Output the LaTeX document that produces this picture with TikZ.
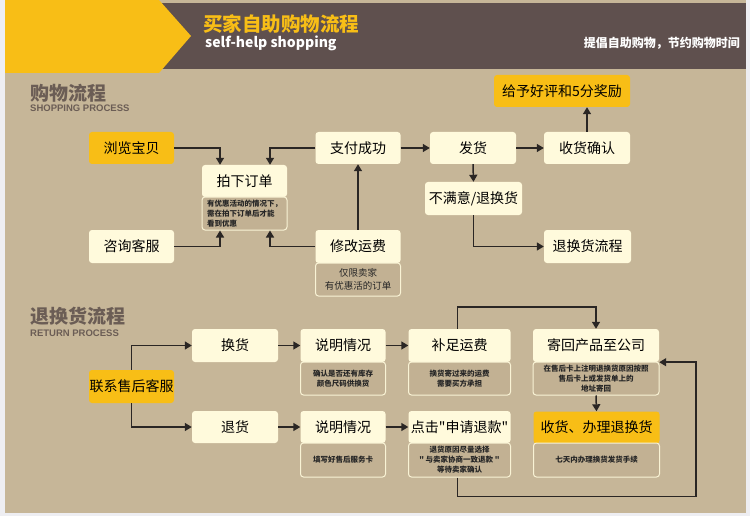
\documentclass[tikz,border=0pt]{standalone}
\usepackage{fontspec}
\setmainfont{Liberation Sans}
\newfontfamily\cjk{Noto Sans CJK SC}
\usetikzlibrary{arrows.meta}

\definecolor{pagebg}{HTML}{EEEEF2}
\definecolor{panel}{HTML}{C6B698}
\definecolor{headbrown}{HTML}{5F504E}
\definecolor{hlyellow}{HTML}{F8BE16}
\definecolor{cream}{HTML}{FFFADC}
\definecolor{notefill}{HTML}{C2B193}
\definecolor{titlegrey}{HTML}{6B5D55}
\definecolor{linec}{HTML}{2A2624}

\tikzset{
  box/.style={rectangle, rounded corners=3pt, fill=cream, inner sep=0pt,
    minimum width=85pt, minimum height=32pt, text=black,
    font=\cjk\fontsize{14}{14}\selectfont},
  hlbox/.style={box, fill=hlyellow},
  notebox/.style={rectangle, rounded corners=3pt, fill=notefill, draw=cream!90!panel,
    line width=1pt, inner sep=0pt, minimum width=85pt, minimum height=33pt,
    align=center, text=black!85, font=\cjk\bfseries\fontsize{7.5}{10}\selectfont},
  link/.style={draw=linec, line width=1.5pt, -{Triangle[length=7pt,width=8pt]}},
  sectitle/.style={anchor=west, text=titlegrey, inner sep=0pt,
    font=\cjk\bfseries\fontsize{19}{19}\selectfont},
  secsub/.style={anchor=west, text=titlegrey, inner sep=0pt,
    font=\bfseries\fontsize{9.5}{9.5}\selectfont}
}

\begin{document}
\begin{tikzpicture}[x=1pt,y=-1pt]
\useasboundingbox (0,0) rectangle (750,516);

% background and header
\fill[pagebg] (0,0) rectangle (750,516);
\fill[panel] (5,0) rectangle (746,513);
\fill[headbrown] (159,3) rectangle (746,69);
\fill[hlyellow] (5,0) -- (159,0) -- (191,36) -- (159,73) -- (5,73) -- cycle;
\node[anchor=west, inner sep=0pt, text=hlyellow, font=\cjk\bfseries\fontsize{19.5}{19.5}\selectfont]
  (maintitle) at (203,24) {买家自助购物流程};
\node[anchor=west, inner sep=0pt, text=white, font=\cjk\bfseries\fontsize{14}{14}\selectfont]
  (subtitle) at (205,43.5) {self-help shopping};
\node[anchor=east, inner sep=0pt, text=white, font=\cjk\bfseries\fontsize{12}{12}\selectfont]
  (slogan) at (740,43) {提倡自助购物，节约购物时间};

% section 1: shopping process
\node[sectitle] (shoptitle) at (30,93.5) {购物流程};
\node[secsub] (shopsub) at (30,108.5) {SHOPPING PROCESS};

\node[hlbox] (browse) at (131.5,148) {浏览宝贝};
\node[box] (order) at (244.5,181) {拍下订单};
\node[notebox, align=left, text width=75pt] (ordernote) at (244.5,213.5)
  {有优惠活动的情况下，\\需在拍下订单后才能\\看到优惠};
\node[box] (pay) at (358,148) {支付成功};
\node[box, minimum width=86pt] (ship) at (473,148) {发货};
\node[box, minimum width=86pt] (confirm) at (587,148) {收货确认};
\node[hlbox, minimum width=136pt] (reward) at (562,91) {给予好评和5分奖励};
\node[box, minimum width=97pt, minimum height=33pt] (unhappy) at (473.5,198.5) {不满意/退换货};
\node[box, minimum height=33pt] (consult) at (131.5,246.5) {咨询客服};
\node[box, minimum height=33pt] (fee) at (358,246.5) {修改运费};
\node[notebox, font=\cjk\fontsize{9.5}{12.5}\selectfont] (feenote) at (358,279.5)
  {仅限卖家\\有优惠活的订单};
\node[box, minimum width=87pt, minimum height=33pt] (returnflow) at (587.5,246.5) {退换货流程};

\draw[link] (browse.east) -| ([xshift=-24.5pt]order.north);
\draw[link] (pay.west) -| ([xshift=25.5pt]order.north);
\draw[link] (consult.east) -| ([xshift=-24.5pt]ordernote.south);
\draw[link] (fee.west) -| ([xshift=25.5pt]ordernote.south);
\draw[link] (fee.north) -- (pay.south);
\draw[link] (pay) -- (ship);
\draw[link] (ship) -- (confirm);
\draw[link] (confirm.north) -- (confirm.north |- reward.south);
\draw[link] (ship.south) -- (unhappy.north);
\draw[link] (unhappy.south) |- (returnflow.west);

% section 2: return process
\node[sectitle] (rettitle) at (30,316) {退换货流程};
\node[secsub] (retsub) at (30,333) {RETURN PROCESS};

\node[hlbox, minimum height=33pt] (contact) at (131.5,386.5) {联系售后客服};
\node[box, minimum width=86pt, minimum height=33pt] (exch) at (235,345.5) {换货};
\node[box, minimum height=33pt] (explainA) at (343,345.5) {说明情况};
\node[notebox] (noteA) at (343,378.5) {确认是否还有库存\\颜色尺码供换货};
\node[box, minimum width=102pt, minimum height=33pt] (topup) at (459.5,345.5) {补足运费};
\node[notebox, minimum width=102pt] (topupnote) at (459.5,378.5) {换货寄过来的运费\\需要买方承担};
\node[box, minimum width=126pt, minimum height=33pt] (sendback) at (596,345.5) {寄回产品至公司};
\node[notebox, minimum width=126pt] (sendnote) at (596,378.5)
  {在售后卡上注明退换货原因按照\\售后卡上或发货单上的\\地址寄回};

\node[box, minimum width=86pt] (refund) at (235,427) {退货};
\node[box] (explainB) at (343,427) {说明情况};
\node[notebox, minimum height=34pt] (noteB) at (343,460) {填写好售后服务卡};
\node[box, minimum width=102pt] (apply) at (459.5,427) {点击"申请退款"};
\node[notebox, minimum width=102pt, minimum height=34pt] (applynote) at (459.5,460)
  {退货原因尽量选择\\" 与卖家协商一致退款 "\\等待卖家确认};
\node[hlbox, minimum width=126pt] (receive) at (596.5,427.5) {收货、办理退换货};
\node[notebox, minimum width=126pt, minimum height=34pt] (recnote) at (596.5,460)
  {七天内办理换货发货手续};

\draw[link] (contact.north) |- (exch.west);
\draw[link] (contact.south) |- (refund.west);
\draw[link] (exch) -- (explainA);
\draw[link] (explainA) -- (topup);
\draw[link] (refund) -- (explainB);
\draw[link] (explainB) -- (apply);
\draw[link] ([xshift=-2pt]topup.north) -- ++(0,-22) -| (sendback.north);
\draw[link] (sendnote.south) -- (receive.north);
\draw[link] ([xshift=-2pt]applynote.south) -- ++(0,19) -| ([xshift=37pt]sendback.south east) -- (sendback.south east);
\end{tikzpicture}
\end{document}
